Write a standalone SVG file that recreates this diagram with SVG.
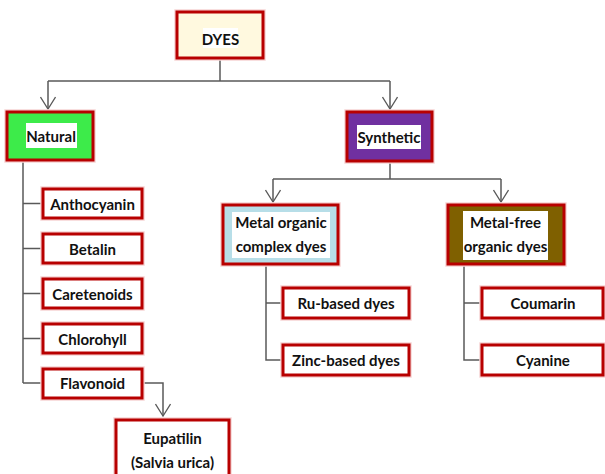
<svg xmlns="http://www.w3.org/2000/svg" width="605" height="474" viewBox="0 0 605 474">
  <defs>
    <!-- open V arrowhead, drawn along +x so orient="auto" turns it with the line -->
    <marker id="arrow" viewBox="0 0 14 16" refX="13" refY="8" markerWidth="14" markerHeight="16" markerUnits="userSpaceOnUse" orient="auto">
      <path d="M1,0.5 L13,8 L1,15.5" fill="none" stroke="#595959" stroke-width="1.3"/>
    </marker>
    <style>
      .box { stroke: #B80000; stroke-width: 3; }
      .halo { fill: none; stroke: #f6d4d4; stroke-width: 5.5; }
      .plate { fill: #ffffff; }
      .label { font-family: Lato, "Liberation Sans", sans-serif; font-weight: bold; font-size: 15px; fill: #111111; text-anchor: middle; dominant-baseline: central; }
      .link { fill: none; stroke: #595959; stroke-width: 1.5; }
    </style>
  </defs>

  <rect width="605" height="474" fill="#ffffff"/>

  <!-- connectors -->
  <g id="connectors">
    <path class="link" d="M220,58 V81 M48,81 H390"/>
    <path class="link" d="M48,81 V109" marker-end="url(#arrow)"/>
    <path class="link" d="M390,81 V109" marker-end="url(#arrow)"/>
    <path class="link" d="M390,161 V179 M273,179 H501"/>
    <path class="link" d="M273,179 V202" marker-end="url(#arrow)"/>
    <path class="link" d="M501,179 V202" marker-end="url(#arrow)"/>
    <path class="link" d="M23,160 V383 M23,203.5 H43 M23,248.5 H43 M23,293.5 H43 M23,338.5 H43 M23,383 H43"/>
    <path class="link" d="M142,383 H163 V416" marker-end="url(#arrow)"/>
    <path class="link" d="M266,264 V360 H283 M266,303 H283"/>
    <path class="link" d="M464,264 V360 H482 M464,303 H482"/>
  </g>

  <!-- root -->
  <g id="dyes">
    <rect class="halo" x="177" y="12" width="86" height="46"/>
    <rect class="box" x="177" y="12" width="86" height="46" fill="#FFF9DF"/>
    <rect class="plate" x="203" y="28" width="35" height="20"/>
    <text class="label" x="220.5" y="38.5">DYES</text>
  </g>

  <g id="natural">
    <rect class="halo" x="7" y="112" width="86" height="48"/>
    <rect class="box" x="7" y="112" width="86" height="48" fill="#3DEB4A"/>
    <rect class="plate" x="26" y="123" width="51" height="25"/>
    <text class="label" x="51" y="136">Natural</text>
  </g>

  <g id="synthetic">
    <rect class="halo" x="347" y="112" width="85" height="49"/>
    <rect class="box" x="347" y="112" width="85" height="49" fill="#7030A0"/>
    <rect class="plate" x="357" y="125" width="64" height="24"/>
    <text class="label" x="389" y="137">Synthetic</text>
  </g>

  <!-- natural dyes -->
  <g id="anthocyanin">
    <rect class="halo" x="43" y="189" width="99" height="29"/>
    <rect class="box" x="43" y="189" width="99" height="29" fill="#ffffff"/>
    <text class="label" x="92.5" y="203.5">Anthocyanin</text>
  </g>
  <g id="betalin">
    <rect class="halo" x="43" y="234" width="99" height="29"/>
    <rect class="box" x="43" y="234" width="99" height="29" fill="#ffffff"/>
    <text class="label" x="92.5" y="248.5">Betalin</text>
  </g>
  <g id="caretenoids">
    <rect class="halo" x="43" y="279" width="99" height="29"/>
    <rect class="box" x="43" y="279" width="99" height="29" fill="#ffffff"/>
    <text class="label" x="92.5" y="293.5">Caretenoids</text>
  </g>
  <g id="chlorohyll">
    <rect class="halo" x="43" y="324" width="99" height="29"/>
    <rect class="box" x="43" y="324" width="99" height="29" fill="#ffffff"/>
    <text class="label" x="92.5" y="338.5">Chlorohyll</text>
  </g>
  <g id="flavonoid">
    <rect class="halo" x="43" y="369" width="99" height="29"/>
    <rect class="box" x="43" y="369" width="99" height="29" fill="#ffffff"/>
    <text class="label" x="92.5" y="383">Flavonoid</text>
  </g>
  <g id="eupatilin">
    <rect class="halo" x="116" y="420" width="113" height="62"/>
    <rect class="box" x="116" y="420" width="113" height="62" fill="#ffffff"/>
    <text class="label" x="172.5" y="438">Eupatilin</text>
    <text class="label" x="172.5" y="462">(Salvia urica)</text>
  </g>

  <!-- synthetic dyes -->
  <g id="metal-organic">
    <rect class="halo" x="223" y="205" width="115" height="59"/>
    <rect class="box" x="223" y="205" width="115" height="59" fill="#B7DEE8"/>
    <rect class="plate" x="232" y="212" width="98" height="46"/>
    <text class="label" x="281" y="222">Metal organic</text>
    <text class="label" x="281" y="246">complex dyes</text>
  </g>
  <g id="metal-free">
    <rect class="halo" x="448" y="205" width="116" height="59"/>
    <rect class="box" x="448" y="205" width="116" height="59" fill="#7F6000"/>
    <rect class="plate" x="463" y="211" width="85" height="49"/>
    <text class="label" x="505.5" y="222">Metal-free</text>
    <text class="label" x="505.5" y="246">organic dyes</text>
  </g>
  <g id="ru-based">
    <rect class="halo" x="283" y="288" width="126" height="30"/>
    <rect class="box" x="283" y="288" width="126" height="30" fill="#ffffff"/>
    <text class="label" x="346" y="303">Ru-based dyes</text>
  </g>
  <g id="zinc-based">
    <rect class="halo" x="283" y="345" width="126" height="30"/>
    <rect class="box" x="283" y="345" width="126" height="30" fill="#ffffff"/>
    <text class="label" x="346" y="360">Zinc-based dyes</text>
  </g>
  <g id="coumarin">
    <rect class="halo" x="482" y="288" width="121" height="30"/>
    <rect class="box" x="482" y="288" width="121" height="30" fill="#ffffff"/>
    <text class="label" x="543" y="303">Coumarin</text>
  </g>
  <g id="cyanine">
    <rect class="halo" x="482" y="345" width="121" height="30"/>
    <rect class="box" x="482" y="345" width="121" height="30" fill="#ffffff"/>
    <text class="label" x="543" y="360">Cyanine</text>
  </g>
</svg>
